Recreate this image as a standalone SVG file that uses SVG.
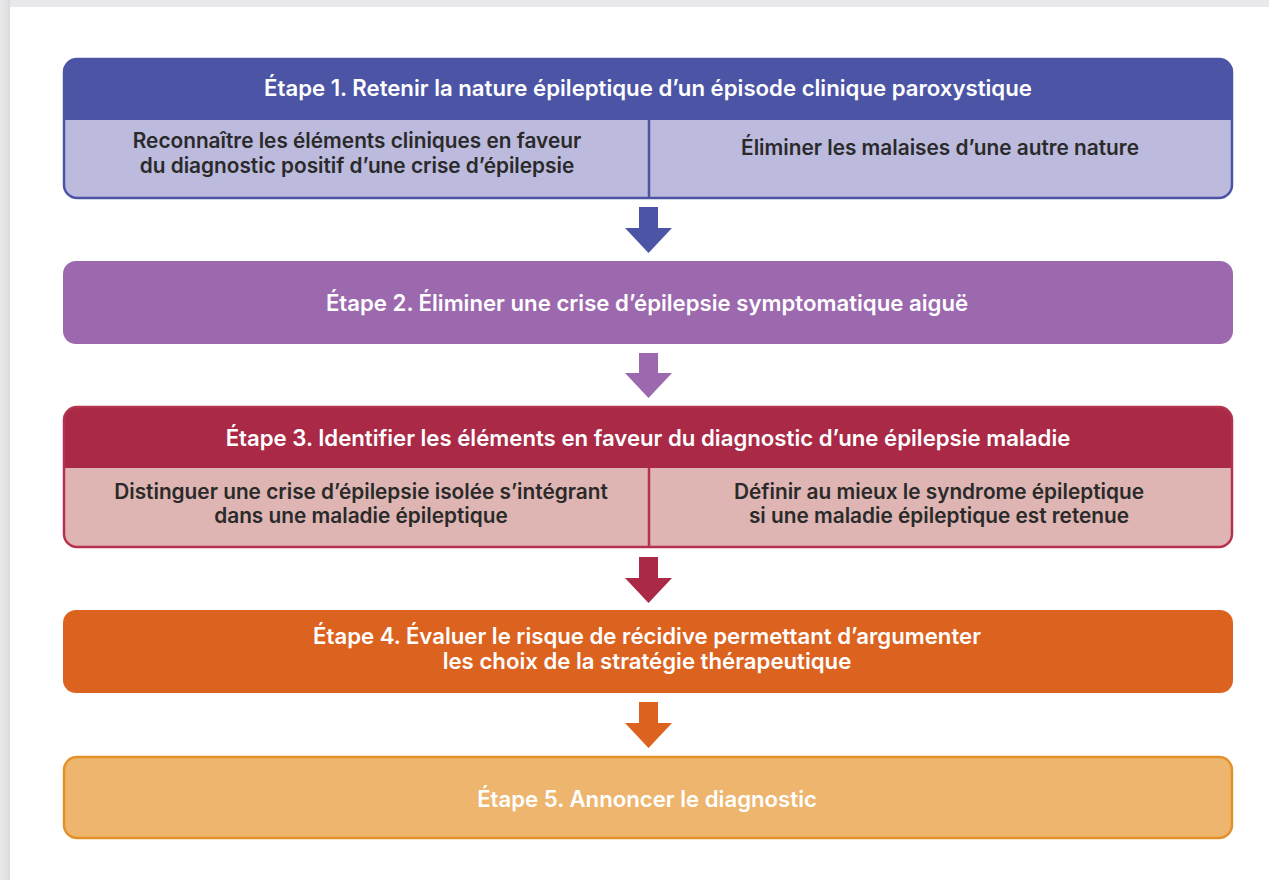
<svg xmlns="http://www.w3.org/2000/svg" width="1269" height="880" viewBox="0 0 1269 880">
<style>
.t{font-family:Inter,"Noto Sans","Liberation Sans",sans-serif;font-weight:600;text-anchor:middle}
.h{fill:#ffffff;font-size:22.2px}
.b{fill:#2a2a2a;font-size:20.8px}
</style>
<defs>
<linearGradient id="sh" x1="0" y1="0" x2="1" y2="0">
<stop offset="0" stop-color="#e9e9eb"/><stop offset="0.7" stop-color="#e2e2e4"/><stop offset="1" stop-color="#d9d9db"/>
</linearGradient>
</defs>
<rect x="0" y="0" width="1269" height="880" fill="#ffffff"/>
<rect x="0" y="0" width="1269" height="7" fill="#e9e9eb"/>
<rect x="0" y="0" width="10" height="880" fill="url(#sh)"/>

<g id="step1">
<rect x="64" y="59" width="1168" height="139" rx="13" fill="#bcbadd"/>
<path d="M64 120 V72 a13 13 0 0 1 13 -13 H1219 a13 13 0 0 1 13 13 V120 Z" fill="#4c55a5"/>
<line x1="649" y1="120" x2="649" y2="198" stroke="#4c55a5" stroke-width="2.5"/>
<rect x="64" y="59" width="1168" height="139" rx="13" fill="none" stroke="#4c55a5" stroke-width="2.5"/>
<text class="t h" x="648" y="96">Étape 1. Retenir la nature épileptique d’un épisode clinique paroxystique</text>
<text class="t b" x="357" y="148">Reconnaître les éléments cliniques en faveur</text>
<text class="t b" x="357" y="173">du diagnostic positif d’une crise d’épilepsie</text>
<text class="t b" x="940" y="155">Éliminer les malaises d’une autre nature</text>
</g>

<g id="step2">
<rect x="63" y="261" width="1170" height="83" rx="13" fill="#9d69ae"/>
<text class="t h" x="647" y="311">Étape 2. Éliminer une crise d’épilepsie symptomatique aiguë</text>
</g>

<g id="step3">
<rect x="64" y="407" width="1168" height="140" rx="13" fill="#deb5b2"/>
<path d="M64 468 V420 a13 13 0 0 1 13 -13 H1219 a13 13 0 0 1 13 13 V468 Z" fill="#a92946"/>
<line x1="649" y1="468" x2="649" y2="547" stroke="#b4324f" stroke-width="2.5"/>
<rect x="64" y="407" width="1168" height="140" rx="13" fill="none" stroke="#b4324f" stroke-width="2.5"/>
<text class="t h" x="648" y="446">Étape 3. Identifier les éléments en faveur du diagnostic d’une épilepsie maladie</text>
<text class="t b" x="361" y="499">Distinguer une crise d’épilepsie isolée s’intégrant</text>
<text class="t b" x="361" y="523">dans une maladie épileptique</text>
<text class="t b" x="939" y="499">Définir au mieux le syndrome épileptique</text>
<text class="t b" x="939" y="523">si une maladie épileptique est retenue</text>
</g>

<g id="step4">
<rect x="63" y="610" width="1170" height="83" rx="13" fill="#dc621f"/>
<text class="t h" x="647" y="644">Étape 4. Évaluer le risque de récidive permettant d’argumenter</text>
<text class="t h" x="647" y="669">les choix de la stratégie thérapeutique</text>
</g>

<g id="step5">
<rect x="64" y="757" width="1168" height="81" rx="13" fill="#eeb56e" stroke="#e3922a" stroke-width="2.5"/>
<text class="t h" x="647" y="807">Étape 5. Annoncer le diagnostic</text>
</g>

<g id="connectors">
<path d="M639 207 H658 V228 H672 L648.5 253 L625 228 H639 Z" fill="#4c55a5"/>
<path d="M639 353 H658 V373 H672 L648.5 398 L625 373 H639 Z" fill="#9d69ae"/>
<path d="M639 557 H658 V578 H672 L648.5 603 L625 578 H639 Z" fill="#a92946"/>
<path d="M639 702 H658 V723 H672 L648.5 748 L625 723 H639 Z" fill="#dc621f"/>
</g>
</svg>
